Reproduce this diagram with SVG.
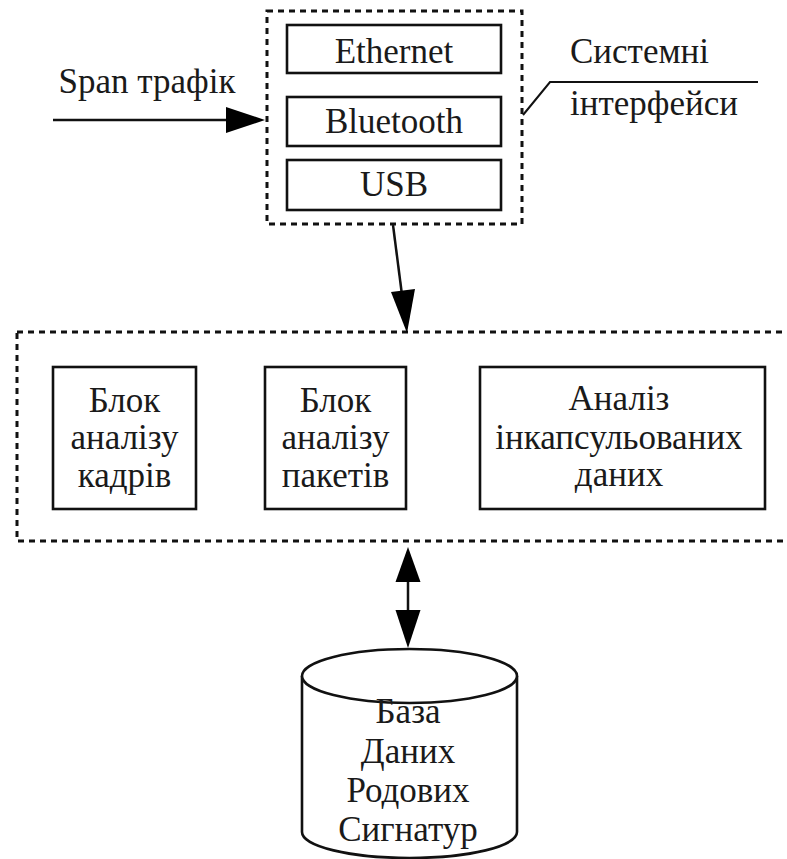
<svg xmlns="http://www.w3.org/2000/svg" width="787" height="859" viewBox="0 0 787 859">
<style>
.t{font-family:'Liberation Serif','DejaVu Serif',serif;font-size:35px;fill:#1a1a1a;text-anchor:middle}
.ts{text-anchor:start}
.box{fill:#fff;stroke:#111;stroke-width:2.6}
.dot{fill:none;stroke:#111;stroke-width:3;stroke-dasharray:6 5}
.ln{fill:none;stroke:#111;stroke-width:2.5}
.hd{fill:#000}
</style>
<rect width="787" height="859" fill="#fff"/>
<g id="interfaces">
<rect class="dot" x="267" y="11" width="255" height="213"/>
</g>
<g id="ethernet">
<rect class="box" x="287" y="25" width="214" height="48"/>
<text class="t" font-family="Liberation Serif" x="394" y="63">Ethernet</text>
</g>
<g id="bluetooth">
<rect class="box" x="287" y="97" width="214" height="49"/>
<text class="t" x="394" y="133">Bluetooth</text>
</g>
<g id="usb">
<rect class="box" x="287" y="160" width="214" height="50"/>
<text class="t" x="394" y="196">USB</text>
</g>
<g id="span-label">
<text class="t" x="147" y="93">Span трафік</text>
</g>
<g id="system-label">
<text class="t ts" x="570" y="63">Системні</text>
<text class="t ts" x="570" y="115">інтерфейси</text>
</g>
<g id="analysis">
<rect class="dot" x="17" y="332" width="790" height="209"/>
</g>
<g id="frames">
<rect class="box" x="53" y="367" width="143" height="142"/>
<text class="t" x="124.5" y="412">Блок</text>
<text class="t" x="124.5" y="449">аналізу</text>
<text class="t" x="124.5" y="487">кадрів</text>
</g>
<g id="packets">
<rect class="box" x="265" y="367" width="141" height="142"/>
<text class="t" x="335.5" y="412">Блок</text>
<text class="t" x="335.5" y="449">аналізу</text>
<text class="t" x="335.5" y="487">пакетів</text>
</g>
<g id="encap">
<rect class="box" x="480" y="367" width="285" height="142"/>
<text class="t" x="619" y="410">Аналіз</text>
<text class="t" x="619" y="449">інкапсульованих</text>
<text class="t" x="619" y="486">даних</text>
</g>
<g id="database">
<path class="box" d="M302,676 L302,832 A107.5,26 0 0 0 517,832 L517,676"/>
<ellipse class="box" cx="409.5" cy="676" rx="107.5" ry="27"/>
<text class="t" x="408" y="723">База</text>
<text class="t" x="408" y="763">Даних</text>
<text class="t" x="408" y="802">Родових</text>
<text class="t" x="408" y="841">Сигнатур</text>
</g>
<g id="connectors">
<line class="ln" x1="53" y1="120" x2="230" y2="120"/>
<polygon class="hd" points="226,107 265,120 226,133"/>
<polyline class="ln" points="523,115 550,82 758,82" style="stroke-width:2"/>
<line class="ln" x1="393" y1="225" x2="402" y2="295"/>
<polygon class="hd" points="391,292 415,289 407,333"/>
<line class="ln" x1="408" y1="575" x2="408" y2="615"/>
<polygon class="hd" points="408,547 420.5,582 395.5,582"/>
<polygon class="hd" points="395.5,610 420.5,610 408,648"/>
</g>
</svg>
